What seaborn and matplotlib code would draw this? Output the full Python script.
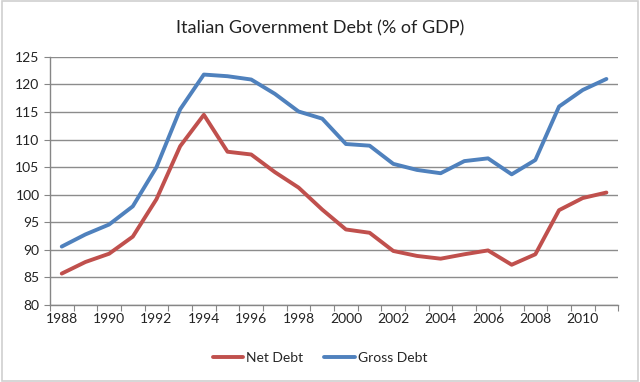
import numpy as np
import pandas as pd
import seaborn as sns
import matplotlib.pyplot as plt

# data
years = list(range(1988, 2012))
net_debt = [85.7, 87.8, 89.3, 92.4, 99.2, 108.8, 114.5, 107.8, 107.3, 104.1, 101.3, 97.3,
            93.7, 93.1, 89.8, 88.9, 88.4, 89.2, 89.9, 87.3, 89.2, 97.2, 99.4, 100.4]
gross_debt = [90.6, 92.8, 94.6, 97.9, 105.0, 115.5, 121.8, 121.5, 120.9, 118.3, 115.1, 113.8,
              109.2, 108.9, 105.6, 104.5, 103.9, 106.1, 106.6, 103.7, 106.3, 116.0, 119.0, 121.0]
series_names = ["Net Debt", "Gross Debt"]
colors = {"Net Debt": "#C0504D", "Gross Debt": "#4F81BD"}

df = pd.DataFrame({
    "Year": years * 2,
    "Debt": net_debt + gross_debt,
    "Series": [series_names[0]] * len(years) + [series_names[1]] * len(years),
})

sns.set_style("white")
plt.rcParams["font.family"] = ["Lato", "DejaVu Sans"]

fig = plt.figure(figsize=(6.4, 3.82), dpi=100)
ax = fig.add_axes([0.078, 0.2016, 0.888, 0.6494])

sns.lineplot(data=df, x="Year", y="Debt", hue="Series", palette=colors,
             linewidth=2.8, ax=ax, legend=False)

ax.set_xlim(1987.5, 2011.5)
ax.set_ylim(80, 125)
ax.set_yticks(range(80, 126, 5))
ax.set_xticks(np.arange(1987.5, 2012, 1), minor=False)
ax.set_xticklabels([])
ax.set_xticks(range(1988, 2012, 2), minor=True)
ax.set_xticklabels([str(y) for y in range(1988, 2012, 2)], minor=True)
ax.tick_params(axis="x", which="major", length=4, color="#868686", direction="out", bottom=True)
ax.tick_params(axis="x", which="minor", length=0, labelsize=10, pad=6, colors="#222222")
ax.tick_params(axis="y", length=4, color="#868686", direction="out", left=True,
               labelsize=10, colors="#222222")
ax.set_xlabel("")
ax.set_ylabel("")
ax.grid(axis="y", color="#8C8C8C", linewidth=1)
ax.set_axisbelow(True)
for s in ["top", "right"]:
    ax.spines[s].set_visible(False)
for s in ["left", "bottom"]:
    ax.spines[s].set_color("#868686")
    ax.spines[s].set_linewidth(1)

fig.text(0.5, 0.925, "Italian Government Debt (% of GDP)", ha="center", va="center",
         fontsize=13, color="#222222")

handles = [plt.Line2D([], [], color=colors[n], linewidth=2.8) for n in series_names]
fig.legend(handles, series_names, loc="center", bbox_to_anchor=(0.5, 0.063), ncol=2,
           frameon=False, fontsize=10, handlelength=2.2, handletextpad=0.2, columnspacing=1.5)

# thin border round the whole chart
fig.patches.append(plt.Rectangle((0.003, 0.003), 0.994, 0.994, transform=fig.transFigure,
                                 fill=False, edgecolor="#D0D0D0", linewidth=1.2))

fig.savefig("out.png", dpi=100)
